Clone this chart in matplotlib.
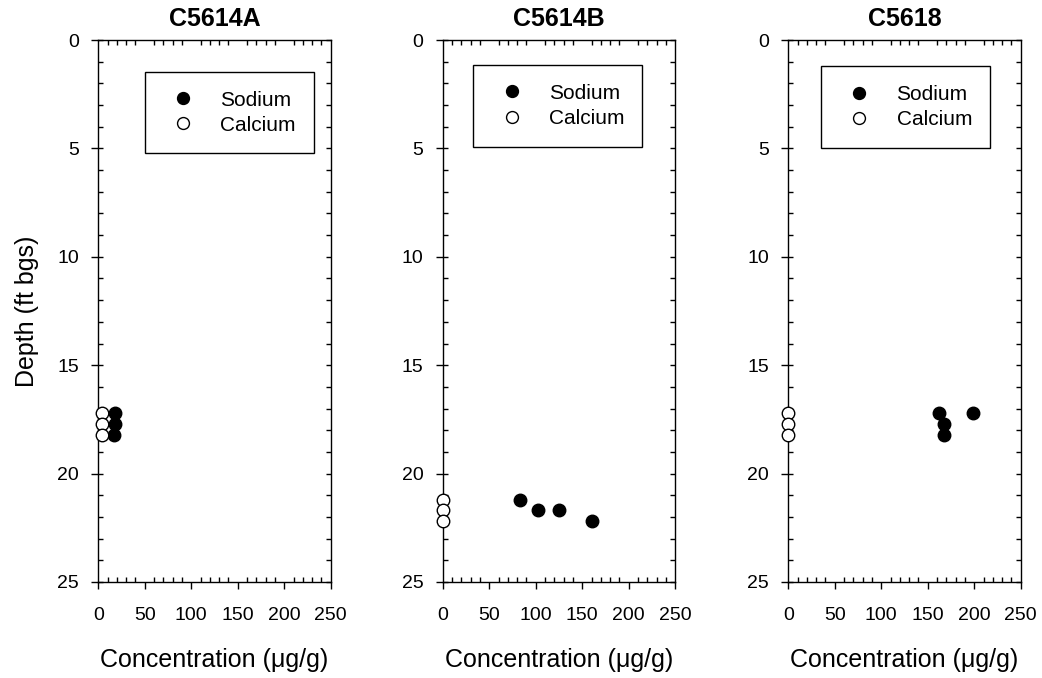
import matplotlib
matplotlib.use("Agg")
import matplotlib.pyplot as plt
from matplotlib.patches import Rectangle
from matplotlib.ticker import MultipleLocator

plt.rcParams['font.family'] = ['Liberation Sans', 'DejaVu Sans']

# well names
wells = ['C5614A', 'C5614B', 'C5618']

# sodium (concentration ug/g, depth ft bgs)
na_conc = [[18, 18, 17], [83, 102, 125, 160], [162, 168, 167, 199]]
na_depth = [[17.2, 17.7, 18.2], [21.2, 21.7, 21.7, 22.2], [17.2, 17.7, 18.2, 17.2]]

# calcium
ca_conc = [[4, 4, 4], [0, 0, 0], [0, 0, 0]]
ca_depth = [[17.2, 17.7, 18.2], [21.2, 21.7, 22.2], [17.2, 17.7, 18.2]]

fig = plt.figure(figsize=(10.42, 6.78), dpi=100)
lefts = [0.0943, 0.4249, 0.7565]
# legend box per panel (x0, y0, x1, y1) in axes fraction
boxes = [(0.2, 0.791, 0.927, 0.941),
         (0.13, 0.803, 0.859, 0.954),
         (0.139, 0.80, 0.868, 0.952)]

for i in range(3):
    ax = fig.add_axes([lefts[i], 0.1416, 0.2231, 0.7994])
    ax.plot(na_conc[i], na_depth[i], 'o', color='black', markersize=9,
            markeredgecolor='black', label='Sodium', clip_on=False, zorder=3)
    ax.plot(ca_conc[i], ca_depth[i], 'o', markerfacecolor='white', markersize=9,
            markeredgecolor='black', label='Calcium', clip_on=False, zorder=3)
    ax.set_xlim(0, 250)
    ax.set_ylim(25, 0)
    ax.xaxis.set_major_locator(MultipleLocator(50))
    ax.xaxis.set_minor_locator(MultipleLocator(10))
    ax.yaxis.set_major_locator(MultipleLocator(5))
    ax.yaxis.set_minor_locator(MultipleLocator(1))
    ax.yaxis.remove_overlapping_locs = False
    ax.tick_params(which='major', direction='out', length=5, width=1,
                   labelsize=14, left=True, bottom=True, top=False, right=False)
    ax.tick_params(axis='x', which='major', pad=13)
    ax.tick_params(axis='y', which='major', pad=9)
    ax.tick_params(which='minor', direction='in', length=3.5, width=1,
                   left=True, right=True, top=True, bottom=True)
    for sp in ax.spines.values():
        sp.set_linewidth(1)
    ax.set_title(wells[i], fontsize=18, fontweight='bold', pad=10)
    ax.set_xlabel('Concentration (μg/g)', fontsize=18, labelpad=17)
    if i == 0:
        ax.set_ylabel('Depth (ft bgs)', fontsize=18, labelpad=13)

    x0, y0, x1, y1 = boxes[i]
    ax.add_patch(Rectangle((x0, y0), x1 - x0, y1 - y0, transform=ax.transAxes,
                           facecolor='white', edgecolor='black', linewidth=1, zorder=4))
    leg = ax.legend(loc='center', bbox_to_anchor=((x0 + x1) / 2, (y0 + y1) / 2),
                    fontsize=15, frameon=False, borderaxespad=0, handletextpad=0.78,
                    labelspacing=0.3, handlelength=2.0, markerscale=0.95)
    leg.set_zorder(5)

fig.savefig('out.png', dpi=100)
